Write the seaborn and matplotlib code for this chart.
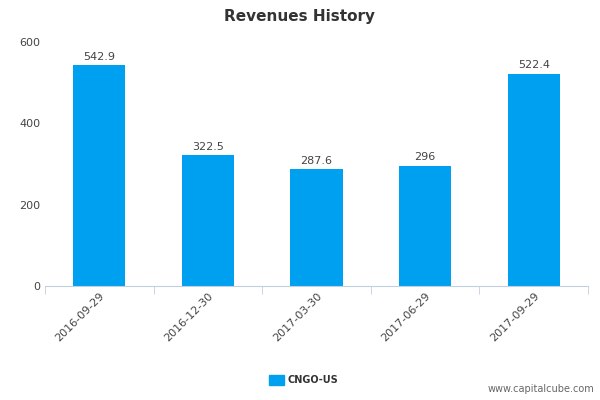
import matplotlib
matplotlib.use("Agg")
import matplotlib.pyplot as plt
import seaborn as sns
import pandas as pd

categories = ["2016-09-29", "2016-12-30", "2017-03-30", "2017-06-29", "2017-09-29"]
values = [542.9, 322.5, 287.6, 296, 522.4]
labels = ["542.9", "322.5", "287.6", "296", "522.4"]
yticks = [0, 200, 400, 600]

df = pd.DataFrame({"date": categories, "rev": values})
fig = plt.figure(figsize=(6, 4), dpi=100)
ax = fig.add_axes([0.075, 0.285, 0.905, 0.61])
sns.barplot(data=df, x="date", y="rev", color="#00a0f0", width=0.48, ax=ax, saturation=1)
for i, (v, t) in enumerate(zip(values, labels)):
    ax.text(i, v + 8, t, ha="center", va="bottom", fontsize=8, color="#444444")
ax.set_ylim(0, 600)
ax.set_yticks(yticks)
ax.set_yticklabels([str(y) for y in yticks], fontsize=8, color="#444444")
ax.set_xticklabels(categories, rotation=45, ha="right", rotation_mode="anchor", fontsize=8, color="#444444")
ax.set_xlabel(""); ax.set_ylabel("")
for s in ["top", "right", "left"]:
    ax.spines[s].set_visible(False)
ax.spines["bottom"].set_color("#c0d0e0")
ax.tick_params(axis="y", length=0)
ax.tick_params(axis="x", length=6, color="#c0d0e0")
ax.set_xticks([i + 0.5 for i in range(-1, 5)], minor=True)
ax.tick_params(axis="x", which="minor", length=6, color="#c0d0e0")
ax.tick_params(axis="x", which="major", length=0)
fig.text(0.5, 0.96, "Revenues History", ha="center", va="center", fontsize=11, fontweight="bold", color="#333333")
fig.patches.append(plt.Rectangle((0.448, 0.037), 0.025, 0.025, transform=fig.transFigure, color="#00a0f0"))
fig.text(0.48, 0.05, "CNGO-US", fontsize=7, fontweight="bold", va="center", color="#333333")
fig.text(0.99, 0.02, "www.capitalcube.com", fontsize=7, ha="right", color="#666666")
fig.savefig("out.png")
